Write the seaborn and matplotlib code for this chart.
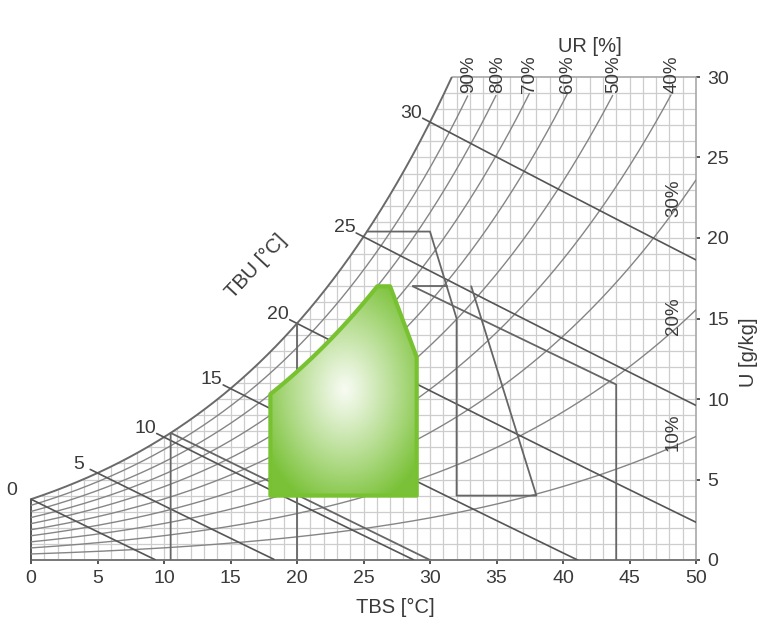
import numpy as np
import pandas as pd
import matplotlib
matplotlib.use("Agg")
import matplotlib.pyplot as plt
import seaborn as sns
from matplotlib.patches import Polygon

# ---------------- data ----------------
rh_levels = [10, 20, 30, 40, 50, 60, 70, 80, 90]
rh_top_labels = [90, 80, 70, 60, 50, 40]
rh_side_labels = [30, 20, 10]
tbu_levels = [0, 5, 10, 15, 20, 25, 30]
x_ticks = [0, 5, 10, 15, 20, 25, 30, 35, 40, 45, 50]
y_ticks = [0, 5, 10, 15, 20, 25, 30]

# comfort zone (green): TBS 18-29, U 4-17, upper-left bound RH 80 %
comfort_T = [18, 29, 29, 27]
comfort_U = [4, 4, 12.6, 17]
comfort_rh = 80

# grey zone boundaries (TBS, U)
vent_T = [None, 30, 32, 32, 38, 33.1]      # first point lies on saturation
vent_U = [20.4, 20.4, 15.0, 4.0, 4.0, 17.0]
top_T = [28.7, 31.26]
top_U = [17.0, 17.0]
mass_T = [28.7, 44, 44]
mass_U = [17.0, 10.9, 0]
heat_T = [10.5, 10.5, 30]
heat_U = [0, None, 0]
solar_T = [20, 20]
solar_U = [0, None]

P_ATM = 101.325


def psat(T):
    T = np.asarray(T, dtype=float)
    return 0.61121 * np.exp((18.678 - T / 234.5) * (T / (257.14 + T)))


def w_rh(T, rh):
    ps = psat(T) * rh
    return 622.0 * ps / (P_ATM - ps)


def w_wb(T, twb):
    ws = w_rh(twb, 1.0) / 1000.0
    return 1000.0 * ((2501 - 2.326 * twb) * ws - 1.006 * (T - twb)) / (2501 + 1.86 * T - 4.186 * twb)


T_fine = np.linspace(0, 50, 2001)
W_sat = w_rh(T_fine, 1.0)


def t_sat(u):
    return float(np.interp(u, W_sat, T_fine))


T_sat30 = t_sat(30)

# ---------------- figure ----------------
sns.set_theme(style="white")
plt.rcParams['font.family'] = ['Liberation Sans', 'DejaVu Sans']
txt = '#3a3a3a'

fig = plt.figure(figsize=(7.63, 6.24), dpi=100)
ax = fig.add_axes([31 / 763, 1 - 560 / 624, 665 / 763, 483 / 624])
ax.set_xlim(0, 50)
ax.set_ylim(0, 30)
for s in ax.spines.values():
    s.set_visible(False)

grid_c = '#cdcdcd'
# vertical grid
for t in range(1, 50):
    ax.plot([t, t], [0, min(w_rh(t, 1.0), 30)], color=grid_c, lw=0.9, zorder=1)
# horizontal grid
for u in range(1, 30):
    ax.plot([t_sat(u), 50], [u, u], color=grid_c, lw=0.9, zorder=1)

# frame
ax.plot([T_sat30, 50, 50], [30, 30, 0], color='#a8a8a8', lw=1.2, zorder=2, clip_on=False)
ax.plot([0, 50], [0, 0], color='#777777', lw=1.4, zorder=2, clip_on=False)
ax.plot([0, 0], [0, w_rh(0, 1.0)], color='#555555', lw=1.4, zorder=2, clip_on=False)

# RH curves
rows = []
for rh in rh_levels:
    T = np.linspace(0, 50, 400)
    W = w_rh(T, rh / 100)
    lim = 29.0 if rh >= 40 else 31
    m = W <= lim
    rows.append(pd.DataFrame({'T': T[m], 'U': W[m], 'rh': rh}))
df_rh = pd.concat(rows, ignore_index=True)
sns.lineplot(data=df_rh, x='T', y='U', units='rh', estimator=None, sort=False,
             color='#858585', lw=1.0, ax=ax, legend=False, zorder=3)

# saturation curve
msk = W_sat <= 30
ax.plot(T_fine[msk], W_sat[msk], color='#6a6a6a', lw=1.4, zorder=4)

# wet bulb lines
rows = []
for twb in tbu_levels:
    T = np.linspace(twb - 0.55, 50, 400)
    W = w_wb(T, twb)
    m = W >= 0
    rows.append(pd.DataFrame({'T': T[m], 'U': W[m], 'twb': twb}))
df_wb = pd.concat(rows, ignore_index=True)
sns.lineplot(data=df_wb, x='T', y='U', units='twb', estimator=None, sort=False,
             color='#555555', lw=1.2, ax=ax, legend=False, zorder=4)

# zone lines
zc = '#666666'
vT = [t_sat(vent_U[0])] + vent_T[1:]
ax.plot(vT, vent_U, color=zc, lw=1.3, zorder=4)
ax.plot(top_T, top_U, color=zc, lw=1.3, zorder=4)
ax.plot(mass_T, mass_U, color=zc, lw=1.3, zorder=4)
hU = [heat_U[0], w_rh(heat_T[1], 1.0), heat_U[2]]
ax.plot(heat_T, hU, color=zc, lw=1.3, zorder=4)
ax.plot(solar_T, [solar_U[0], w_rh(solar_T[1], 1.0)], color=zc, lw=1.3, zorder=4)

# comfort zone polygon
t_top = t_sat(comfort_U[3] / 1.0 * 1.0) if False else float(np.interp(comfort_U[3], w_rh(T_fine, comfort_rh / 100), T_fine))
Tc = np.linspace(t_top, comfort_T[0], 40)
poly_T = list(comfort_T) + [t_top] + list(Tc)
poly_U = list(comfort_U) + [comfort_U[3]] + list(w_rh(Tc, comfort_rh / 100))
verts = np.column_stack([poly_T, poly_U])
patch = Polygon(verts, closed=True, facecolor='none', edgecolor='#78c232', lw=3.0,
                joinstyle='round', zorder=7)

gx = np.linspace(17, 30, 260)
gy = np.linspace(3, 18, 300)
GX, GY = np.meshgrid(gx, gy)
r = np.sqrt(((GX - 23.6) / 6.8) ** 2 + ((GY - 10.6) / 7.6) ** 2)
f = np.clip(r, 0, 1) ** 1.1
white = np.array([0.97, 0.985, 0.95])
green = np.array([0.48, 0.76, 0.22])
img = white[None, None, :] * (1 - f[..., None]) + green[None, None, :] * f[..., None]
im = ax.imshow(img, extent=(17, 30, 3, 18), origin='lower', aspect='auto', zorder=6,
               interpolation='bilinear')
clip = Polygon(verts, closed=True, transform=ax.transData, facecolor='none', edgecolor='none')
ax.add_patch(clip)
im.set_clip_path(clip)
ax.add_patch(patch)
ax.set_xlim(0, 50)
ax.set_ylim(0, 30)

# TBU labels
for twb in tbu_levels:
    ax.annotate(str(twb), (twb, w_rh(twb, 1.0)), xytext=(-19, 9), textcoords='offset pixels',
                ha='center', va='center', fontsize=14, color=txt, zorder=9, annotation_clip=False)

# RH labels at top
for rh in rh_top_labels:
    t = float(np.interp(29.0, w_rh(T_fine, rh / 100), T_fine))
    ax.text(t, 29.0, f"{rh}%", rotation=90, ha='center', va='bottom', fontsize=13.5,
            color=txt, zorder=9, clip_on=False)
for rh in rh_side_labels:
    ax.text(48.3, w_rh(48.3, rh / 100) - 0.3, f"{rh}%", rotation=90, ha='center', va='bottom',
            fontsize=13.5, color=txt, zorder=9)

# ticks
ax.set_xticks(x_ticks)
ax.set_xticklabels([str(v) for v in x_ticks])
ax.yaxis.tick_right()
ax.set_yticks(y_ticks)
ax.set_yticklabels([str(v) for v in y_ticks])
ax.tick_params(axis='x', bottom=True, top=False, length=3, width=1.4, color='#555555',
               pad=4, labelsize=14, labelcolor=txt)
ax.tick_params(axis='y', right=True, left=False, length=3, width=1.4, color='#555555',
               pad=5, labelsize=14, labelcolor=txt)
ax.set_xlabel('')
ax.set_ylabel('')
ax.grid(False)

fig.text(395 / 763, 1 - 607 / 624, "TBS [°C]", ha='center', va='center', fontsize=14.5, color=txt)
fig.text(749 / 763, 1 - 352 / 624, "U [g/kg]", ha='center', va='center', rotation=90,
         fontsize=14.5, color=txt)
fig.text(590 / 763, 1 - 46 / 624, "UR [%]", ha='center', va='center', fontsize=14.5, color=txt)
fig.text(256 / 763, 1 - 266 / 624, "TBU [°C]", ha='center', va='center', rotation=47,
         fontsize=14.5, color=txt)

fig.savefig("out.png", dpi=100, facecolor='white')
